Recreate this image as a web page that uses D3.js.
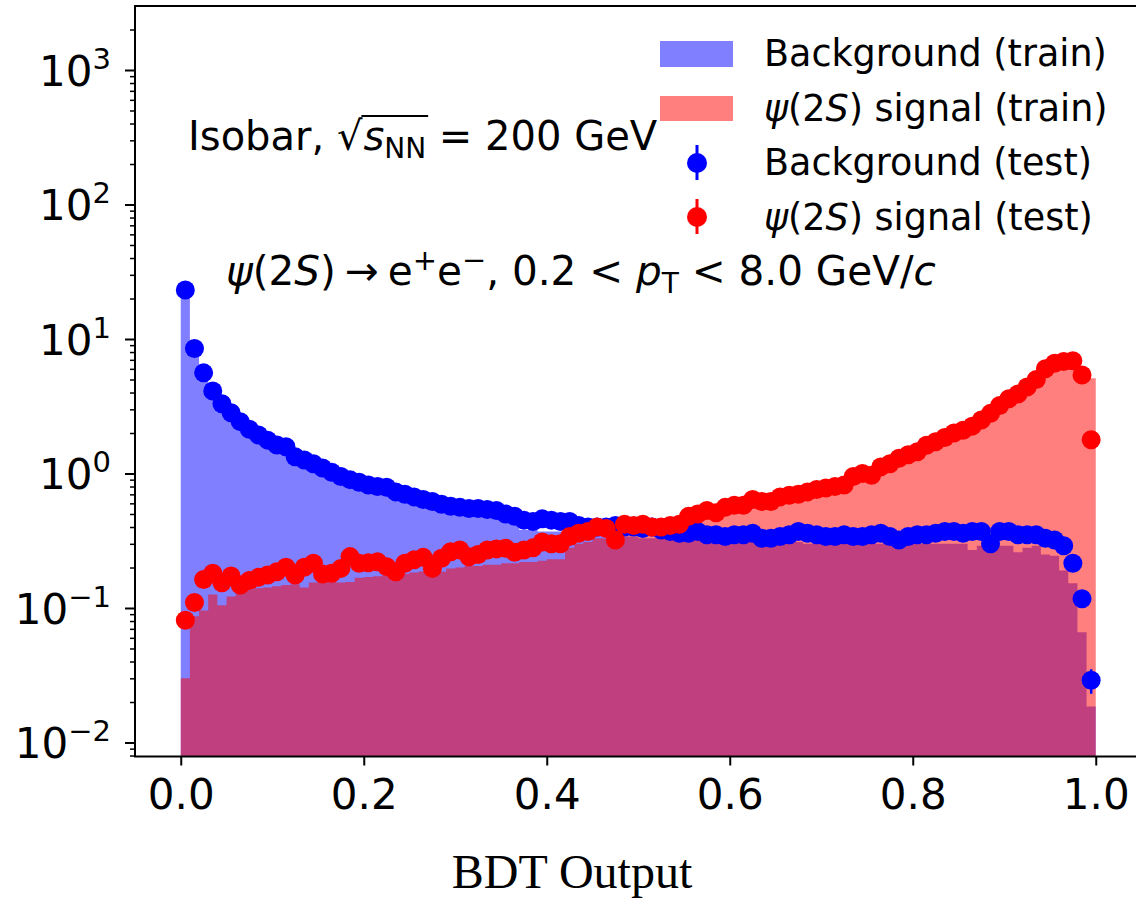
<!DOCTYPE html>
<html>
<head>
<meta charset="utf-8">
<script src="https://cdn.jsdelivr.net/npm/d3@7"></script>
<style>
  body { margin: 0; background: #fff; }
  svg { display: block; }
  text { font-family: "DejaVu Sans", sans-serif; fill: #000; }
</style>
</head>
<body>
<svg id="chart" width="1136" height="900"></svg>
<script>
// ---- BDT output distributions, 100 bins of width 0.01 on [0, 1] ----
const binEdges = d3.range(0, 101).map(i => i / 100);

// Background, training sample (filled histogram)
const bgTrain = [
  22.0, 8.0, 5.3, 3.9, 3.1, 2.65, 2.3, 2.0, 1.8, 1.65,
  1.52, 1.42, 1.30, 1.20, 1.12, 1.04, 0.97, 0.90, 0.85, 0.80,
  0.76, 0.72, 0.69, 0.66, 0.63, 0.60, 0.58, 0.56, 0.54, 0.52,
  0.50, 0.49, 0.48, 0.47, 0.46, 0.45, 0.43, 0.38, 0.38, 0.37,
  0.37, 0.37, 0.36, 0.36, 0.35, 0.35, 0.34, 0.34, 0.34, 0.34,
  0.33, 0.33, 0.33, 0.32, 0.32, 0.32, 0.32, 0.31, 0.31, 0.31,
  0.31, 0.31, 0.31, 0.30, 0.30, 0.31, 0.31, 0.31, 0.30, 0.30,
  0.30, 0.30, 0.30, 0.30, 0.30, 0.30, 0.30, 0.30, 0.30, 0.30,
  0.30, 0.30, 0.30, 0.30, 0.30, 0.30, 0.27, 0.29, 0.29, 0.29,
  0.29, 0.26, 0.28, 0.29, 0.25, 0.245, 0.19, 0.153, 0.066, 0.0185
];

// psi(2S) signal, training sample (filled histogram)
const sigTrain = [
  0.030, 0.087, 0.096, 0.126, 0.105, 0.122, 0.130, 0.137, 0.140, 0.142,
  0.145, 0.148, 0.150, 0.142, 0.155, 0.158, 0.160, 0.155, 0.156, 0.168,
  0.170, 0.172, 0.175, 0.178, 0.180, 0.184, 0.187, 0.190, 0.186, 0.197,
  0.200, 0.205, 0.205, 0.210, 0.210, 0.215, 0.215, 0.220, 0.220, 0.225,
  0.230, 0.230, 0.280, 0.300, 0.310, 0.330, 0.330, 0.340, 0.360, 0.370,
  0.380, 0.380, 0.390, 0.400, 0.410, 0.430, 0.450, 0.470, 0.480, 0.500,
  0.520, 0.540, 0.560, 0.570, 0.590, 0.620, 0.640, 0.660, 0.690, 0.710,
  0.730, 0.760, 0.790, 0.840, 0.900, 0.930, 1.000, 1.080, 1.150, 1.250,
  1.350, 1.470, 1.580, 1.700, 1.850, 2.000, 2.150, 2.350, 2.600, 2.900,
  3.250, 3.600, 4.000, 4.500, 5.200, 5.800, 6.200, 6.300, 5.800, 5.100
];

// Background, test sample (points)
const bgTest = [
  23.1, 8.5, 5.6, 4.1, 3.3, 2.83, 2.43, 2.13, 1.93, 1.77,
  1.63, 1.58, 1.33, 1.26, 1.18, 1.10, 1.02, 0.95, 0.90, 0.86,
  0.82, 0.80, 0.79, 0.73, 0.70, 0.67, 0.64, 0.62, 0.59, 0.57,
  0.56, 0.55, 0.55, 0.54, 0.53, 0.50, 0.48, 0.45, 0.44, 0.46,
  0.45, 0.44, 0.44, 0.41, 0.40, 0.40, 0.40, 0.41, 0.40, 0.40,
  0.39, 0.40, 0.38, 0.37, 0.36, 0.36, 0.37, 0.35, 0.35, 0.34,
  0.35, 0.35, 0.36, 0.33, 0.33, 0.34, 0.35, 0.37, 0.36, 0.35,
  0.34, 0.34, 0.35, 0.34, 0.34, 0.35, 0.36, 0.34, 0.32, 0.34,
  0.35, 0.35, 0.36, 0.37, 0.37, 0.36, 0.37, 0.37, 0.30, 0.37,
  0.37, 0.35, 0.35, 0.35, 0.33, 0.32, 0.29, 0.215, 0.117, 0.029
];

// psi(2S) signal, test sample (points)
const sigTest = [
  0.081, 0.110, 0.163, 0.181, 0.154, 0.173, 0.148, 0.160, 0.169, 0.176,
  0.186, 0.201, 0.176, 0.201, 0.215, 0.179, 0.181, 0.197, 0.241, 0.215,
  0.217, 0.221, 0.203, 0.186, 0.215, 0.228, 0.238, 0.197, 0.234, 0.262,
  0.270, 0.240, 0.250, 0.270, 0.275, 0.278, 0.260, 0.270, 0.280, 0.310,
  0.300, 0.300, 0.340, 0.360, 0.370, 0.400, 0.390, 0.320, 0.420, 0.410,
  0.420, 0.400, 0.400, 0.410, 0.420, 0.480, 0.500, 0.530, 0.510, 0.560,
  0.580, 0.580, 0.640, 0.620, 0.620, 0.670, 0.690, 0.700, 0.730, 0.760,
  0.780, 0.800, 0.820, 0.950, 1.000, 0.970, 1.120, 1.180, 1.300, 1.380,
  1.450, 1.620, 1.720, 1.850, 2.000, 2.100, 2.250, 2.500, 2.800, 3.200,
  3.600, 3.900, 4.400, 5.000, 6.000, 6.600, 6.800, 6.900, 5.400, 1.780
];

// Statistical errors that stick out of their markers
const bgTestErrBins = [99];
const bgTestErrVals = [0.006];

// Axis ticks
const xTickValues = [0.0, 0.2, 0.4, 0.6, 0.8, 1.0];
const xTickLabels = ["0.0", "0.2", "0.4", "0.6", "0.8", "1.0"];
const yTickExponents = [-2, -1, 0, 1, 2, 3];
const yTickExpLabels = ["\u22122", "\u22121", "0", "1", "2", "3"];

// Legend entries
const legendTrain = ["Background (train)", "\u03C8(2S) signal (train)"];
const legendTest = ["Background (test)", "\u03C8(2S) signal (test)"];

// ---- layout ----
const W = 1136, H = 900;
const plotL = 135, plotR = 1141.5, plotT = 6, plotB = 756.5;
const BLUE = "#0000ff", RED = "#ff0000";

const x = d3.scaleLinear().domain([-0.05, 1.05]).range([plotL, plotR]);
const y = d3.scaleLog().domain([Math.pow(10, -2.1041), Math.pow(10, 3.4758)]).range([plotB, plotT]);

const svg = d3.select("#chart");
svg.append("rect").attr("width", W).attr("height", H).attr("fill", "#fff");
svg.append("defs").append("clipPath").attr("id", "plotClip")
  .append("rect").attr("x", plotL).attr("y", plotT)
  .attr("width", plotR - plotL).attr("height", plotB - plotT);

const plot = svg.append("g").attr("clip-path", "url(#plotClip)");

// step-filled histograms
const histArea = d3.area().curve(d3.curveStepAfter)
  .x(d => x(d[0])).y0(plotB).y1(d => y(d[1]));
function histPoints(vals) {
  const pts = vals.map((v, i) => [binEdges[i], v]);
  pts.push([binEdges[vals.length], vals[vals.length - 1]]);
  return pts;
}
plot.append("path").attr("d", histArea(histPoints(bgTrain)))
  .attr("fill", BLUE).attr("fill-opacity", 0.5);
plot.append("path").attr("d", histArea(histPoints(sigTrain)))
  .attr("fill", RED).attr("fill-opacity", 0.5);

// test-sample points
const binCenter = i => (binEdges[i] + binEdges[i + 1]) / 2;
const R = 9.5;
function drawPoints(vals, color, errBins, errVals) {
  const g = plot.append("g");
  errBins.forEach((b, k) => {
    g.append("line")
      .attr("x1", x(binCenter(b))).attr("x2", x(binCenter(b)))
      .attr("y1", y(vals[b] + errVals[k])).attr("y2", y(vals[b] - errVals[k]))
      .attr("stroke", color).attr("stroke-width", 2.5);
  });
  g.selectAll("circle").data(vals).join("circle")
    .attr("cx", (d, i) => x(binCenter(i))).attr("cy", d => y(d))
    .attr("r", R).attr("fill", color);
}
drawPoints(bgTest, BLUE, bgTestErrBins, bgTestErrVals);
drawPoints(sigTest, RED, [], []);

// ---- axes ----
const axisColor = "#000";
const xAxis = svg.append("g").attr("transform", `translate(0,${plotB})`)
  .call(d3.axisBottom(x).tickValues(xTickValues).tickSize(9)
    .tickFormat((d, i) => xTickLabels[i]));
xAxis.select(".domain").remove();
xAxis.selectAll(".tick line").attr("stroke", axisColor).attr("stroke-width", 2);
xAxis.selectAll(".tick text").attr("y", 52).attr("dy", 0)
  .attr("font-size", 42).attr("font-family", "DejaVu Sans").attr("fill", "#000");

const minorVals = [];
for (let e = -3; e <= 3; e++) for (let m = 2; m <= 9; m++) {
  const v = m * Math.pow(10, e);
  if (v > y.domain()[0] && v < y.domain()[1]) minorVals.push(v);
}
const yMinor = svg.append("g").attr("transform", `translate(${plotL},0)`)
  .call(d3.axisLeft(y).tickValues(minorVals).tickSize(5).tickFormat(""));
yMinor.select(".domain").remove();
yMinor.selectAll(".tick line").attr("stroke", axisColor).attr("stroke-width", 1.5);

const yMajorVals = yTickExponents.map(e => Math.pow(10, e));
const yMajor = svg.append("g").attr("transform", `translate(${plotL},0)`)
  .call(d3.axisLeft(y).tickValues(yMajorVals).tickSize(10).tickFormat(""));
yMajor.select(".domain").remove();
yMajor.selectAll(".tick line").attr("stroke", axisColor).attr("stroke-width", 2);

yMajorVals.forEach((v, i) => {
  const ty = y(v);
  const t = svg.append("text").attr("x", 111).attr("y", ty + 16)
    .attr("text-anchor", "end").attr("font-size", 42).text("10");
  t.append("tspan").attr("dy", -17).attr("font-size", 29).text(yTickExpLabels[i]);
});

// spines (right spine falls just outside the canvas)
svg.append("line").attr("x1", plotL).attr("x2", plotL).attr("y1", plotT).attr("y2", plotB)
  .attr("stroke", axisColor).attr("stroke-width", 2);
svg.append("line").attr("x1", plotL - 1).attr("x2", plotR).attr("y1", plotB).attr("y2", plotB)
  .attr("stroke", axisColor).attr("stroke-width", 2);
svg.append("line").attr("x1", plotL - 1).attr("x2", plotR).attr("y1", plotT).attr("y2", plotT)
  .attr("stroke", axisColor).attr("stroke-width", 2);
svg.append("line").attr("x1", plotR).attr("x2", plotR).attr("y1", plotT).attr("y2", plotB)
  .attr("stroke", axisColor).attr("stroke-width", 2);

// ---- rich text helper: lays out runs left to right ----
function richText(parent, x0, y0, runs, baseSize) {
  let cx = x0;
  const out = [];
  runs.forEach(r => {
    cx += (r.padL || 0);
    const t = parent.append("text")
      .attr("x", cx).attr("y", y0 + (r.dy || 0))
      .attr("font-size", r.size || baseSize)
      .attr("font-style", r.italic ? "italic" : "normal")
      .attr("xml:space", "preserve").style("white-space", "pre")
      .text(r.t);
    const w = t.node().getComputedTextLength();
    out.push({ x: cx, w: w });
    cx += w + (r.kern || 0);
  });
  return out;
}

// annotation: collision system
const ann1 = richText(svg, 188, 150, [
  { t: "Isobar, " },
  { t: "\u221A", kern: 1 },
  { t: "s", italic: true },
  { t: "NN", size: 28, dy: 8 },
  { t: " = 200 GeV" }
], 40);
svg.append("line")
  .attr("x1", ann1[1].x + ann1[1].w - 1).attr("x2", ann1[3].x + ann1[3].w + 2)
  .attr("y1", 116).attr("y2", 116)
  .attr("stroke", "#000").attr("stroke-width", 2);

// annotation: decay channel and pT range
richText(svg, 226, 285, [
  { t: "\u03C8", italic: true },
  { t: "(2" },
  { t: "S", italic: true },
  { t: ")" },
  { t: "\u2192", padL: 9, kern: 9 },
  { t: "e" },
  { t: "+", size: 29, dy: -15 },
  { t: "e" },
  { t: "\u2212", size: 29, dy: -15 },
  { t: ", 0.2 < " },
  { t: "p", italic: true },
  { t: "T", size: 28, dy: 8 },
  { t: " < 8.0 GeV/" },
  { t: "c", italic: true }
], 40.5);

// ---- legend ----
const legend = svg.append("g");
const legTextX = 764;
const legRows = [66, 121, 175, 230];
legend.append("rect").attr("x", 660).attr("y", 41).attr("width", 73).attr("height", 26)
  .attr("fill", BLUE).attr("fill-opacity", 0.5);
legend.append("rect").attr("x", 660).attr("y", 96).attr("width", 73).attr("height", 25)
  .attr("fill", RED).attr("fill-opacity", 0.5);
[[163, BLUE], [217, RED]].forEach(([cy, c]) => {
  legend.append("line").attr("x1", 697).attr("x2", 697).attr("y1", cy - 18).attr("y2", cy + 17)
    .attr("stroke", c).attr("stroke-width", 3);
  legend.append("circle").attr("cx", 697).attr("cy", cy).attr("r", 10).attr("fill", c);
});
function legendLabel(label, row) {
  if (label.startsWith("\u03C8")) {
    const rest = label.slice("\u03C8(2S)".length);
    richText(legend, legTextX, legRows[row], [
      { t: "\u03C8", italic: true }, { t: "(2" }, { t: "S", italic: true }, { t: ")" + rest }
    ], 36.5);
  } else {
    richText(legend, legTextX, legRows[row], [{ t: label }], 36.5);
  }
}
legendTrain.forEach((l, i) => legendLabel(l, i));
legendTest.forEach((l, i) => legendLabel(l, i + 2));

// x-axis title
svg.append("text").attr("x", 572).attr("y", 888).attr("text-anchor", "middle")
  .style("font-family", "'Liberation Serif', 'Times New Roman', serif")
  .attr("font-size", 48).text("BDT Output");
</script>
</body>
</html>
